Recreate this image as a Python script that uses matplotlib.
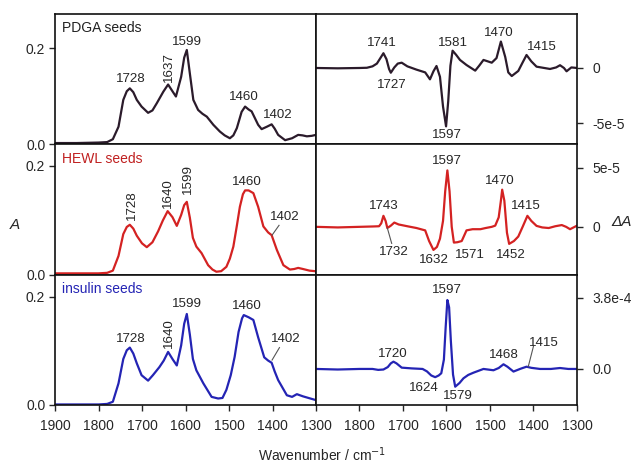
import numpy as np
import matplotlib
matplotlib.use("Agg")
import matplotlib.pyplot as plt

plt.rcParams['font.family'] = ['Liberation Sans', 'DejaVu Sans']

# ---------------- data ----------------
pdga_abs_wn = [1900, 1850, 1800, 1780, 1767, 1754, 1743, 1735, 1728, 1720, 1712, 1701, 1686, 1676, 1666,
               1651, 1640, 1630, 1622, 1610, 1603, 1597, 1590, 1582, 1571, 1561, 1551, 1536, 1521, 1510,
               1498, 1490, 1482, 1471, 1463, 1455, 1448, 1433, 1425, 1413, 1402, 1395, 1387, 1371, 1355,
               1341, 1331, 1321, 1310, 1300]
pdga_abs = [0.002, 0.002, 0.003, 0.004, 0.010, 0.036, 0.092, 0.110, 0.116, 0.108, 0.092, 0.078, 0.065, 0.070, 0.085,
            0.109, 0.124, 0.110, 0.099, 0.140, 0.180, 0.196, 0.147, 0.092, 0.071, 0.063, 0.057, 0.040, 0.026, 0.018,
            0.012, 0.018, 0.033, 0.067, 0.078, 0.072, 0.068, 0.040, 0.031, 0.036, 0.041, 0.032, 0.019, 0.008, 0.012,
            0.019, 0.018, 0.016, 0.017, 0.019]

pdga_diff_wn = [1900, 1850, 1800, 1783, 1770, 1760, 1752, 1745, 1738, 1732, 1728, 1720, 1712, 1703, 1690,
                1669, 1649, 1642, 1638, 1630, 1623, 1615, 1608, 1601, 1596, 1591, 1586, 1578, 1569, 1554,
                1534, 1525, 1515, 1505, 1496, 1485, 1475, 1465, 1458, 1450, 1435, 1425, 1416, 1405, 1393,
                1362, 1348, 1339, 1330, 1324, 1313, 1300]
pdga_diff = [0, -0.3e-6, 0, 0.2e-6, 1.5e-6, 4e-6, 9e-6, 1.34e-5, 8e-6, -1e-6, -4.3e-6, 0.5e-6, 4e-6, 4.8e-6, 1.5e-6,
             -1.5e-6, -4e-6, -8e-6, -1.03e-5, -3e-6, 1.8e-6, -8e-6, -3.5e-5, -5.3e-5, -3.0e-5, 2e-6, 1.57e-5, 1.2e-5, 7.3e-6, 2.7e-6,
             -2.4e-6, 2e-6, 7.3e-6, 6e-6, 4.8e-6, 9e-6, 2.4e-5, 1e-5, -4e-6, -7.3e-6, -2.7e-6, 5e-6, 1.18e-5, 6e-6, 1.2e-6,
             -0.9e-6, 0.5e-6, 2.5e-6, 0, -3e-6, 0.5e-6, 0]

hewl_abs_wn = [1900, 1850, 1800, 1780, 1767, 1754, 1743, 1735, 1728, 1720, 1712, 1700, 1689, 1676, 1663,
               1652, 1641, 1630, 1620, 1610, 1603, 1597, 1590, 1583, 1575, 1563, 1548, 1538, 1529, 1518,
               1506, 1498, 1490, 1482, 1475, 1468, 1463, 1455, 1444, 1433, 1421, 1410, 1402, 1390, 1375,
               1360, 1350, 1341, 1330, 1315, 1302, 1300]
hewl_abs = [0.003, 0.003, 0.003, 0.004, 0.008, 0.035, 0.075, 0.088, 0.092, 0.085, 0.072, 0.058, 0.051, 0.060, 0.080,
            0.100, 0.117, 0.106, 0.090, 0.110, 0.128, 0.134, 0.105, 0.068, 0.052, 0.040, 0.018, 0.010, 0.006, 0.007,
            0.015, 0.030, 0.052, 0.090, 0.125, 0.148, 0.155, 0.155, 0.150, 0.125, 0.089, 0.078, 0.073, 0.046, 0.018,
            0.010, 0.011, 0.013, 0.011, 0.008, 0.007, 0.006]

hewl_diff_wn = [1900, 1850, 1800, 1770, 1755, 1750, 1745, 1740, 1736, 1728, 1720, 1710, 1690, 1669, 1649,
                1640, 1630, 1622, 1615, 1608, 1603, 1598, 1593, 1588, 1583, 1575, 1565, 1554, 1540, 1522,
                1510, 1496, 1488, 1480, 1475, 1472, 1467, 1461, 1456, 1445, 1435, 1425, 1414, 1405, 1393,
                1380, 1365, 1350, 1335, 1325, 1316, 1300]
hewl_diff = [0, -0.5e-6, 0, 0.3e-6, 0.5e-6, 3e-6, 9.3e-6, 5e-6, -1e-6, 1e-6, 3.6e-6, 2e-6, 0.5e-6, -1e-6, -3e-6,
             -1.2e-5, -1.95e-5, -1.7e-5, -1e-5, 5e-6, 3e-5, 4.77e-5, 3e-5, 0, -1.33e-5, -1.3e-5, -1.2e-5, -3e-6, -2e-6, -2e-6,
             -1e-6, 0, 1e-6, 8e-6, 2.2e-5, 3.14e-5, 2.2e-5, -5e-6, -1.44e-5, -1.2e-5, -8.2e-6, 0, 9.3e-6, 5e-6, 0.8e-6,
             -0.5e-6, -1e-6, 0.5e-6, 1.5e-6, 0, -2e-6, 1e-6]

ins_abs_wn = [1900, 1850, 1800, 1780, 1767, 1754, 1743, 1735, 1728, 1720, 1712, 1701, 1686, 1675, 1660,
              1650, 1640, 1630, 1620, 1610, 1603, 1597, 1590, 1583, 1575, 1559, 1540, 1525, 1515, 1506,
              1496, 1487, 1478, 1470, 1466, 1455, 1444, 1433, 1419, 1410, 1402, 1395, 1387, 1367, 1355,
              1344, 1330, 1313, 1300]
ins_abs = [0.001, 0.001, 0.001, 0.002, 0.006, 0.040, 0.085, 0.101, 0.106, 0.095, 0.077, 0.055, 0.045, 0.055, 0.070,
           0.082, 0.098, 0.085, 0.073, 0.110, 0.150, 0.168, 0.130, 0.085, 0.064, 0.040, 0.015, 0.012, 0.013, 0.028,
           0.055, 0.089, 0.135, 0.160, 0.166, 0.162, 0.157, 0.125, 0.088, 0.082, 0.078, 0.062, 0.046, 0.018, 0.015,
           0.020, 0.016, 0.012, 0.009]

ins_diff_wn = [1900, 1850, 1800, 1770, 1757, 1745, 1735, 1728, 1722, 1715, 1703, 1680, 1655, 1645, 1635,
               1626, 1618, 1612, 1606, 1602, 1598, 1594, 1590, 1585, 1580, 1570, 1561, 1550, 1538, 1515,
               1492, 1480, 1469, 1460, 1446, 1431, 1425, 1416, 1405, 1385, 1360, 1339, 1320, 1300]
ins_diff = [0, -0.3e-5, 0, 0, -0.5e-5, -0.3e-5, 1e-5, 3e-5, 3.9e-5, 3e-5, 0.7e-5, 0.3e-5, 0, -1.3e-5, -3.5e-5,
            -4.4e-5, -3.5e-5, -2.3e-5, 5e-5, 2.2e-4, 3.69e-4, 3.3e-4, 1.5e-4, -3e-5, -9.5e-5, -7.5e-5, -5e-5, -3.2e-5, -2e-5, 0,
            -0.7e-5, 0.5e-5, 2.5e-5, 1.2e-5, -1.4e-5, 0, 0.5e-5, 1.2e-5, 0.6e-5, 0, 0, 0.5e-5, 0, 0]

row_labels = ["PDGA seeds", "HEWL seeds", "insulin seeds"]
colors = ["#2b1b2b", "#d42222", "#2424b4"]
label_colors = ["#222222", "#c02020", "#2424b4"]

abs_ylims = [(0, 0.271), (0, 0.24), (0, 0.24)]
diff_ylims = [(-6.9e-5, 4.9e-5), (-4.07e-5, 7.0e-5), (-1.93e-4, 5.03e-4)]
diff_ticks = [[-5e-5, 0], [0, 5e-5], [0, 3.8e-4]]
diff_ticklabels = [["-5e-5", "0"], ["0", "5e-5"], ["0.0", "3.8e-4"]]

# annotations: (text, wn, value, rotation)
abs_notes = [
    [("1728", 1726, 0.135, 0), ("1637", 1637, 0.161, 90), ("1599", 1597, 0.213, 0),
     ("1460", 1467, 0.099, 0), ("1402", 1389, 0.060, 0)],
    [("1728", 1724, 0.128, 90), ("1640", 1640, 0.150, 90), ("1599", 1594, 0.176, 90),
     ("1460", 1460, 0.171, 0), ("1402", 1371, 0.107, 0)],
    [("1728", 1726, 0.122, 0), ("1640", 1637, 0.132, 90), ("1599", 1597, 0.187, 0),
     ("1460", 1460, 0.182, 0), ("1402", 1369, 0.121, 0)],
]
diff_notes = [
    [("1741", 1749, 2.25e-5), ("1727", 1726, -1.55e-5), ("1581", 1586, 2.3e-5),
     ("1597", 1600, -6.1e-5), ("1470", 1479, 3.2e-5), ("1415", 1380, 1.94e-5)],
    [("1743", 1743, 1.72e-5), ("1732", 1722, -2.1e-5), ("1632", 1630, -2.8e-5),
     ("1597", 1600, 5.6e-5), ("1571", 1546, -2.37e-5), ("1470", 1477, 3.84e-5),
     ("1452", 1452, -2.37e-5), ("1415", 1417, 1.8e-5)],
    [("1597", 1600, 4.23e-4), ("1720", 1724, 8.0e-5), ("1624", 1652, -1.03e-4),
     ("1579", 1573, -1.44e-4), ("1468", 1468, 7.5e-5), ("1415", 1375, 1.38e-4)],
]
# leader lines: (panel side, row, (wn0, v0), (wn1, v1))
leaders = [
    ("abs", 1, (1385, 0.091), (1401, 0.073)),
    ("abs", 2, (1384, 0.106), (1401, 0.083)),
    ("diff", 1, (1736, -1.0e-6), (1726, -1.4e-5)),
    ("diff", 2, (1400, 1.22e-4), (1412, 1.3e-5)),
]

abs_series = [(pdga_abs_wn, pdga_abs), (hewl_abs_wn, hewl_abs), (ins_abs_wn, ins_abs)]
diff_series = [(pdga_diff_wn, pdga_diff), (hewl_diff_wn, hewl_diff), (ins_diff_wn, ins_diff)]
xticks_left = [1900, 1800, 1700, 1600, 1500, 1400, 1300]
xticks_right = [1800, 1700, 1600, 1500, 1400, 1300]

# ---------------- figure ----------------
W, H = 632, 463
fig = plt.figure(figsize=(W / 100, H / 100), dpi=100)

def fx(px):
    return px / W

def fy(py):
    return 1 - py / H

row_edges = [14, 144, 275, 405]
x_left0, x_mid, x_right1 = 55, 316, 577
fs = 10
fs_note = 9.6
tc = '#262626'
axes_abs, axes_diff = [], []
for r in range(3):
    b = fy(row_edges[r + 1])
    h = (row_edges[r + 1] - row_edges[r]) / H
    axL = fig.add_axes([fx(x_left0), b, fx(x_mid - x_left0), h])
    axR = fig.add_axes([fx(x_mid), b, fx(x_right1 - x_mid), h])
    axes_abs.append(axL)
    axes_diff.append(axR)

    wn, v = abs_series[r]
    axL.plot(wn, v, color=colors[r], lw=1.6, solid_joinstyle='round')
    axL.set_xlim(1900, 1300)
    axL.set_ylim(*abs_ylims[r])
    axL.set_yticks([0.0, 0.2])
    axL.set_yticklabels(["0.0", "0.2"])
    axL.tick_params(axis='y', direction='out', length=4, width=1, labelsize=fs, pad=3, colors=tc)

    wn, v = diff_series[r]
    axR.plot(wn, v, color=colors[r], lw=1.6, solid_joinstyle='round')
    axR.set_xlim(1900, 1300)
    axR.set_ylim(*diff_ylims[r])
    axR.yaxis.tick_right()
    axR.set_yticks(diff_ticks[r])
    axR.set_yticklabels(diff_ticklabels[r])
    axR.tick_params(axis='y', direction='out', length=4, width=1, labelsize=fs, pad=7, colors=tc)

    for ax in (axL, axR):
        for s in ax.spines.values():
            s.set_linewidth(1.2)
            s.set_color('#111111')
        if r < 2:
            ax.set_xticks([])
    if r == 2:
        axL.set_xticks(xticks_left)
        axL.set_xticklabels([str(t) for t in xticks_left])
        axR.set_xticks(xticks_right)
        axR.set_xticklabels([str(t) for t in xticks_right])
        for ax in (axL, axR):
            ax.tick_params(axis='x', direction='out', length=4, width=1, labelsize=fs, pad=6, colors=tc)

    axL.text(0.027, (row_edges[r + 1] - [28, 159, 289][r]) / (row_edges[r + 1] - row_edges[r]),
             row_labels[r], transform=axL.transAxes, ha='left', va='center',
             fontsize=fs, color=label_colors[r])

    for t, w, val, rot in abs_notes[r]:
        axL.text(w, val, t, ha='center', va='center', rotation=rot, fontsize=fs_note, color=tc)
    for t, w, val in diff_notes[r]:
        axR.text(w, val, t, ha='center', va='center', fontsize=fs_note, color=tc)

for side, r, p0, p1 in leaders:
    ax = axes_abs[r] if side == "abs" else axes_diff[r]
    ax.plot([p0[0], p1[0]], [p0[1], p1[1]], color='#555555', lw=0.8)

fig.text(fx(15), fy(225), "A", style='italic', fontsize=fs + 1, ha='center', va='center', color=tc)
fig.text(fx(621), fy(222), "ΔA", style='italic', fontsize=fs + 1, ha='center', va='center', color=tc)
fig.text(fx(322), fy(455), "Wavenumber / cm$^{-1}$", fontsize=fs, ha='center', va='center', color=tc)

fig.savefig("out.png", dpi=100)
